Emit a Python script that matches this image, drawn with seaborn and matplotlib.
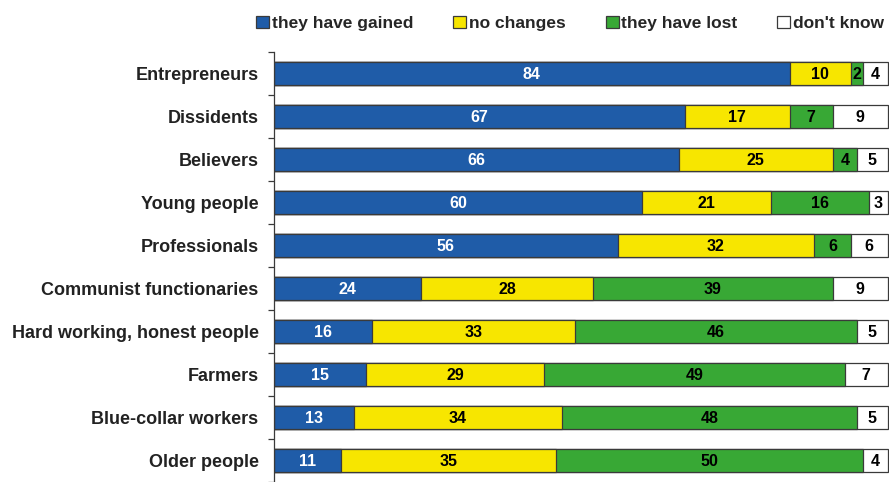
import numpy as np
import pandas as pd
import matplotlib.pyplot as plt
import seaborn as sns
from matplotlib.patches import Patch

# ---- data ----
groups = ['Entrepreneurs', 'Dissidents', 'Believers', 'Young people', 'Professionals',
          'Communist functionaries', 'Hard working, honest people', 'Farmers',
          'Blue-collar workers', 'Older people']
gained = [84, 67, 66, 60, 56, 24, 16, 15, 13, 11]
no_change = [10, 17, 25, 21, 32, 28, 33, 29, 34, 35]
lost = [2, 7, 4, 16, 6, 39, 46, 49, 48, 50]
dont_know = [4, 9, 5, 3, 6, 9, 5, 7, 5, 4]

series_names = ['they have gained', 'no changes', 'they have lost', "don't know"]
colors = ['#1f5ca8', '#f7e600', '#38a835', '#ffffff']
text_colors = ['white', 'black', 'black', 'black']

df = pd.DataFrame({'group': groups, 'gained': gained, 'no_change': no_change,
                   'lost': lost, 'dont_know': dont_know})
cols = ['gained', 'no_change', 'lost', 'dont_know']
cum = df[cols].cumsum(axis=1)

sns.set_style('white')
plt.rcParams['font.family'] = ['Liberation Sans', 'DejaVu Sans']
plt.rcParams['font.weight'] = 'bold'

fig = plt.figure(figsize=(8.89, 4.82), dpi=100)
ax = fig.add_axes([0.308, 0.0, 0.692, 0.892])

# stacked bars: draw the cumulative totals from the back to the front
for i in range(len(cols) - 1, -1, -1):
    sns.barplot(x=cum[cols[i]], y=df['group'], orient='h', color=colors[i],
                edgecolor='#3a3a3a', linewidth=0.9, width=0.52, saturation=1,
                ax=ax)

# segment labels
for r in range(len(groups)):
    start = 0
    for i, c in enumerate(cols):
        v = df[c][r]
        ax.text(start + v / 2, r + 0.03, str(v), ha='center', va='center',
                color=text_colors[i], fontsize=11.5, fontweight='bold')
        start += v

ax.set_xlim(0, 100.2)
ax.set_ylim(9.4, -0.5)
ax.set_xlabel('')
ax.set_ylabel('')
ax.set_xticks([])
ax.set_yticks(range(len(groups)))
ax.set_yticklabels(groups, fontsize=13, fontweight='bold', color='#222222')
ax.set_yticks(np.arange(-0.5, len(groups), 1), minor=True)
ax.tick_params(axis='y', which='major', left=False, length=0, pad=11)
ax.tick_params(axis='y', which='minor', left=True, length=4, width=0.9,
               color='#3a3a3a', direction='out')
for s in ['top', 'right', 'bottom']:
    ax.spines[s].set_visible(False)
ax.spines['left'].set_color('#3a3a3a')
ax.spines['left'].set_linewidth(0.9)

handles = [Patch(facecolor=colors[i], edgecolor='#3a3a3a', linewidth=0.9, label=series_names[i])
           for i in range(4)]
fig.legend(handles=handles, loc='upper right', bbox_to_anchor=(1.012, 1.0), ncol=4,
           frameon=False, fontsize=12.5, handlelength=0.75, handleheight=0.75,
           handletextpad=0.15, columnspacing=2.3, borderaxespad=0.5)

fig.savefig('out.png', dpi=100)
